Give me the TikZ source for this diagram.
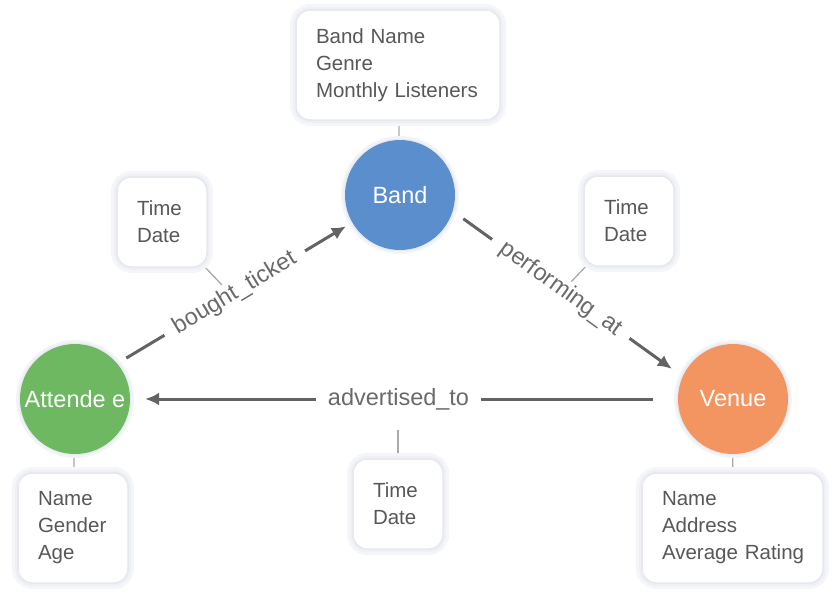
\documentclass[tikz,border=0pt]{standalone}
\usepackage{fontspec}
\setmainfont{Liberation Sans}
\usetikzlibrary{arrows.meta,backgrounds}
\definecolor{bandblue}{RGB}{91,142,204}
\definecolor{attgreen}{RGB}{110,184,97}
\definecolor{venorange}{RGB}{242,149,96}
\definecolor{edgegray}{RGB}{99,99,99}
\definecolor{labelgray}{RGB}{106,106,106}
\definecolor{proptext}{RGB}{88,88,88}
\definecolor{glow}{RGB}{226,230,237}
\definecolor{thin}{RGB}{170,170,170}
\begin{document}
\begin{tikzpicture}[x=1pt,y=-1pt,
  ent/.style={circle, minimum size=110pt, inner sep=0pt, text=white,
    font=\fontsize{23.5}{28}\selectfont,
    preaction={draw=glow!45, line width=8pt},
    preaction={draw=glow!80, line width=3pt}},
  prop/.style={rectangle, rounded corners=14pt, fill=white, text=proptext,
    align=left, font=\fontsize{20.5}{27}\selectfont,
    inner xsep=20pt, inner ysep=0pt,
    preaction={draw=glow!35, line width=12pt},
    preaction={draw=glow!60, line width=6pt},
    draw=glow!90, line width=1.5pt},
  edge/.style={draw=edgegray, line width=3pt,
    -{Latex[length=14pt,width=13pt]}},
  elabel/.style={fill=white, text=labelgray, font=\fontsize{23.5}{28}\selectfont,
    inner xsep=12pt, inner ysep=1pt},
  tie/.style={draw=thin, line width=1.3pt}
]
\useasboundingbox (0,0) rectangle (836,595);

% entity circles
\node[ent, fill=bandblue] (band) at (400,195) {Band};
\node[ent, fill=attgreen] (att) at (75,399) {Attende e};
\node[ent, fill=venorange] (venue) at (733,399) {Venue};

% property boxes
\node[prop, text width=164pt, minimum height=110pt] (bandbox) at (398,65)
  {Band Name\\Genre\\\mbox{Monthly Listeners}};
\node[prop, text width=70pt, minimum height=110pt] (attbox) at (73,528)
  {Name\\Gender\\Age};
\node[prop, text width=141pt, minimum height=110pt] (venbox) at (732.5,528)
  {Name\\Address\\\mbox{Average Rating}};
\node[prop, text width=50pt, minimum height=90pt] (td1) at (162,222)
  {Time\\Date};
\node[prop, text width=50pt, minimum height=90pt] (td2) at (629,221)
  {Time\\Date};
\node[prop, text width=50pt, minimum height=90pt] (td3) at (398,504)
  {Time\\Date};

\coordinate (c1) at (222,285);
\coordinate (c2) at (570,283);
\coordinate (c3) at (398,430);

\begin{scope}[on background layer]
  \draw[tie] (bandbox) -- (band);
  \draw[tie] (att) -- (attbox);
  \draw[tie] (venue) -- (venbox);
  \draw[tie] (td1.center) -- (c1);
  \draw[tie] (td2.center) -- (c2);
  \draw[tie] (td3.center) -- (c3);
\end{scope}

% relationships
\draw[edge, shorten <=10.5pt, shorten >=7.3pt] (att.40) --
  node[elabel, sloped] {bought\_ticket} (band.210);
\draw[edge, shorten <=13pt, shorten >=13.2pt] (band.-17) --
  node[elabel, sloped, pos=0.47] {performing\_at} (venue.156);
\draw[edge, shorten <=25pt, shorten >=15pt] (venue.180) --
  node[elabel, pos=0.51] {advertised\_to} (att.0);
\end{tikzpicture}
\end{document}
